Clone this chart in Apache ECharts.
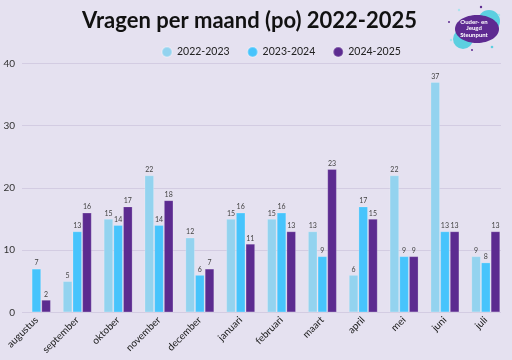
<!DOCTYPE html>
<html><head><meta charset="utf-8">
<script src="https://cdn.jsdelivr.net/npm/echarts@6/dist/echarts.min.js"></script>
<style>html,body{margin:0;padding:0;background:#e5e1f0;}#c{width:512px;height:360px;}</style>
</head><body><div id="c"></div>
<script>
const months = ['augustus','september','oktober','november','december','januari','februari','maart','april','mei','juni','juli'];
const s2022 = [null,5,15,22,12,15,15,13,6,22,37,9];
const s2023 = [7,13,14,14,6,16,16,9,17,9,13,8];
const s2024 = [2,16,17,18,7,11,13,23,15,9,13,13];
const yTicks = [0,10,20,30,40];
const names = ['2022-2023','2023-2024','2024-2025'];
const colors = ['#93d3ef','#47c4fc','#5c2b90'];
const FONT = 'Lato';

const chart = echarts.init(document.getElementById('c'));
function bar(name, data, color){
  return {name, type:'bar', data, xAxisIndex:0, yAxisIndex:0,
    barWidth:9.4, barGap:'3%',
    itemStyle:{color, borderColor:'rgba(255,255,255,0.25)', borderWidth:0.8},
    label:{show:true, position:'top', distance:2, fontSize:7, color:'#444', fontFamily:FONT}};
}
function logoText(y, t){
  return {type:'text', style:{x:474, y:y, text:t, fill:'#fff', fontSize:6, fontWeight:'bold',
    align:'center', verticalAlign:'middle', fontFamily:FONT}};
}
chart.setOption({
  backgroundColor:'#e5e1f0',
  color: colors,
  textStyle:{fontFamily:FONT},
  title:{text:'Vragen per maand (po) 2022-2025', left:77, top:5,
    textStyle:{fontSize:22, fontWeight:'bold', color:'#111', fontFamily:FONT}},
  legend:{data:names, left:156, top:41, icon:'circle', itemWidth:10, itemHeight:10, itemGap:17,
    textStyle:{fontSize:10.5, color:'#222', fontFamily:FONT}},
  grid:[
    {left:16, right:5.8, top:63.3, bottom:47.7},
    {left:22, right:11, top:63.3, bottom:47.7}
  ],
  xAxis:[
    {type:'category', data:months, gridIndex:0,
      axisLine:{show:false}, axisTick:{show:false},
      axisLabel:{rotate:45, fontSize:10, color:'#222', margin:6, fontFamily:FONT, interval:0}},
    {type:'category', data:months, gridIndex:1, show:false}
  ],
  yAxis:[
    {type:'value', gridIndex:0, min:0, max:40, interval:10, show:false, splitLine:{show:false}},
    {type:'value', gridIndex:1, min:0, max:40, interval:10,
      axisLine:{show:false}, axisTick:{show:false},
      axisLabel:{fontSize:10, color:'#333', margin:7, fontFamily:FONT,
        formatter: v => yTicks.includes(v) ? String(v) : ''},
      splitLine:{lineStyle:{color:'#d3cce2', width:1}}}
  ],
  series:[bar(names[0], s2022, colors[0]), bar(names[1], s2023, colors[1]), bar(names[2], s2024, colors[2])],
  graphic:[
    {type:'circle', shape:{cx:489, cy:21, r:11}, style:{fill:'#5ccfe0'}},
    {type:'circle', shape:{cx:463, cy:39, r:10}, style:{fill:'#5ccfe0'}},
    {type:'ellipse', shape:{cx:477, cy:29, rx:22, ry:14}, style:{fill:'#5e2a91'}},
    {type:'circle', shape:{cx:449, cy:22, r:1}, style:{fill:'#5e2a91'}},
    {type:'circle', shape:{cx:481, cy:7, r:1.2}, style:{fill:'#5e2a91'}},
    {type:'circle', shape:{cx:459, cy:10, r:1.2}, style:{fill:'#a8e3ee'}},
    {type:'circle', shape:{cx:499, cy:15, r:1.2}, style:{fill:'#a8e3ee'}},
    {type:'circle', shape:{cx:451, cy:40, r:1.2}, style:{fill:'#a8e3ee'}},
    {type:'circle', shape:{cx:492, cy:47, r:1.3}, style:{fill:'#5ccfe0'}},
    {type:'circle', shape:{cx:472, cy:50, r:1}, style:{fill:'#5e2a91'}},
    logoText(22, 'Ouder- en'),
    logoText(28.5, 'Jeugd'),
    logoText(35, 'Steunpunt')
  ]
});
</script></body></html>
